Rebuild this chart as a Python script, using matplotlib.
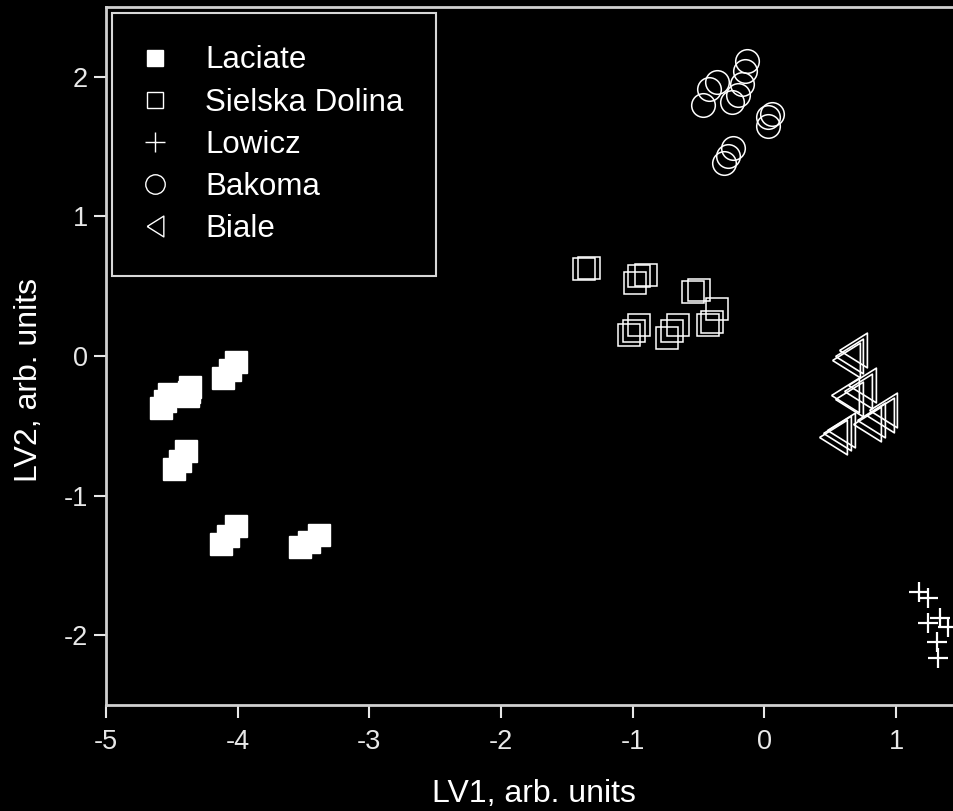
import matplotlib
matplotlib.use('Agg')
import matplotlib.pyplot as plt
from matplotlib.lines import Line2D

plt.rcParams['font.family'] = ['Liberation Sans', 'DejaVu Sans']
plt.rcParams['axes.unicode_minus'] = False

# LV1/LV2 scores, several replicate spectra per sample
laciate_x = [-4.11, -4.06, -4.01, -4.58, -4.55, -4.52, -4.38, -4.37, -4.36,
             -4.48, -4.44, -4.39, -4.13, -4.07, -4.01, -3.53, -3.46, -3.38]
laciate_y = [-0.16, -0.10, -0.04, -0.37, -0.32, -0.27, -0.29, -0.26, -0.22,
             -0.81, -0.75, -0.68, -1.35, -1.29, -1.22, -1.37, -1.33, -1.28]

sielska_x = [-1.37, -1.33, -0.98, -0.95, -0.90, -1.03, -0.99, -0.95,
             -0.74, -0.70, -0.66, -0.54, -0.50, -0.36, -0.43, -0.40]
sielska_y = [0.62, 0.63, 0.52, 0.57, 0.58, 0.15, 0.18, 0.22,
             0.13, 0.18, 0.22, 0.46, 0.47, 0.34, 0.22, 0.24]

lowicz_x = [1.17, 1.24, 1.33, 1.24, 1.31, 1.32, 1.39]
lowicz_y = [-1.69, -1.73, -1.88, -1.91, -2.05, -2.16, -1.94]

bakoma_x = [-0.13, -0.15, -0.17, -0.20, -0.47, -0.42, -0.36, -0.25,
            0.03, 0.06, 0.03, -0.31, -0.28, -0.24]
bakoma_y = [2.11, 2.04, 1.95, 1.87, 1.80, 1.91, 1.96, 1.82,
            1.71, 1.73, 1.65, 1.38, 1.43, 1.49]

biale_x = [0.67, 0.64, 0.62, 0.74, 0.71, 0.90, 0.88, 0.81, 0.78,
           0.52, 0.55, 0.58, 0.61, 0.64]
biale_y = [0.04, 0.00, -0.03, -0.21, -0.25, -0.39, -0.42, -0.46, -0.49,
           -0.58, -0.55, -0.53, -0.28, -0.31]

brands = ['Laciate', 'Sielska Dolina', 'Lowicz', 'Bakoma', 'Biale']

# left-pointing triangle, a bit taller than wide
tri_left = [(-0.8, 0), (0.8, 1), (0.8, -1), (-0.8, 0)]

fig = plt.figure(figsize=(9.54, 8.11), dpi=100, facecolor='black')
ax = fig.add_axes([0.1111, 0.1307, 0.8973, 0.8607], facecolor='black')

ax.plot(laciate_x, laciate_y, ls='none', marker='s', ms=15.5,
        mfc='white', mec='white', mew=1)
ax.plot(sielska_x, sielska_y, ls='none', marker='s', ms=16,
        mfc='none', mec='white', mew=1.1)
ax.plot(lowicz_x, lowicz_y, ls='none', marker='+', ms=15,
        mec='white', mew=1.6)
ax.plot(bakoma_x, bakoma_y, ls='none', marker='o', ms=17,
        mfc='none', mec='white', mew=1.1)
ax.plot(biale_x, biale_y, ls='none', marker=tri_left, ms=25,
        mfc='none', mec='white', mew=1.2)

ax.set_xlim(-5, 1.5)
ax.set_ylim(-2.5, 2.5)
ax.set_xticks([-5, -4, -3, -2, -1, 0, 1])
ax.set_yticks([-2, -1, 0, 1, 2])

for side in ['left', 'bottom', 'top', 'right']:
    ax.spines[side].set_color('#d0d0d0')
    ax.spines[side].set_linewidth(2)

ax.tick_params(direction='out', length=9, width=1.5, colors='#e8e8e8',
               labelsize=19.5)
ax.tick_params(axis='y', pad=4)
ax.tick_params(axis='x', pad=8)

ax.set_xlabel('LV1, arb. units', fontsize=23, color='white')
ax.xaxis.set_label_coords(0.5, -0.106)
ax.set_ylabel('LV2, arb. units', fontsize=23, color='white')
ax.yaxis.set_label_coords(-0.072, 0.466)

handles = [
    Line2D([], [], ls='none', marker='s', ms=11, mfc='white', mec='white'),
    Line2D([], [], ls='none', marker='s', ms=11, mfc='none', mec='white', mew=1),
    Line2D([], [], ls='none', marker='+', ms=15, mec='white', mew=1),
    Line2D([], [], ls='none', marker='o', ms=14, mfc='none', mec='white', mew=1),
    Line2D([], [], ls='none', marker=tri_left, ms=15, mfc='none', mec='white', mew=1),
]
leg = ax.legend(handles, brands, loc='upper left', bbox_to_anchor=(0.007, 0.991),
                borderaxespad=0, frameon=True, fancybox=False, facecolor='black',
                edgecolor='#d8d8d8', framealpha=1, fontsize=22.5, labelcolor='white',
                handlelength=0.7, handletextpad=1.26, borderpad=1.03, labelspacing=0.39)
leg.get_frame().set_linewidth(1.5)

fig.savefig('out.png', dpi=100, facecolor='black')
